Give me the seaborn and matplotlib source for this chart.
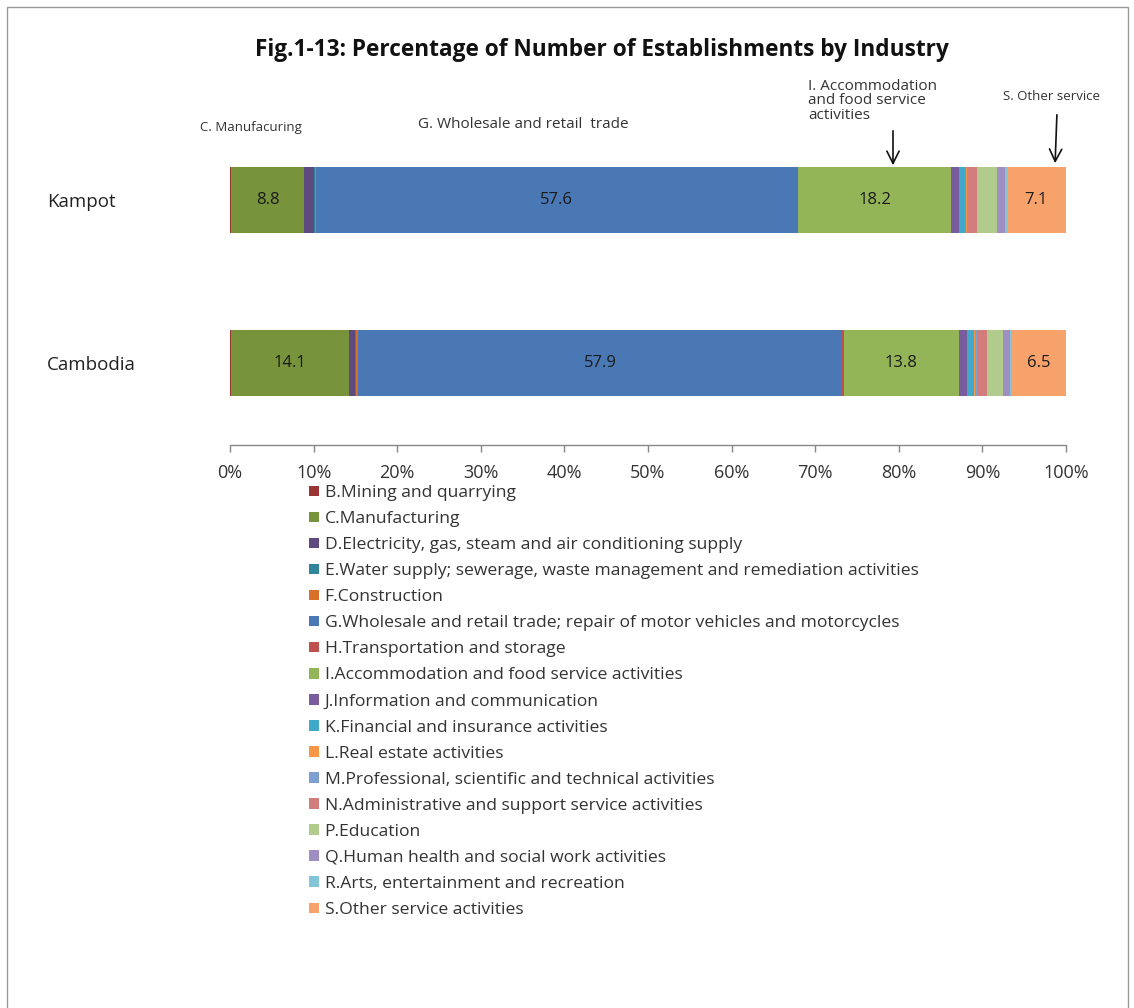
import matplotlib
matplotlib.use("Agg")
import matplotlib.pyplot as plt
import seaborn as sns
import pandas as pd
import numpy as np
from matplotlib.patches import Patch, Rectangle

regions = ["Kampot", "Cambodia"]
industries = [
    "B.Mining and quarrying",
    "C.Manufacturing",
    "D.Electricity, gas, steam and air conditioning supply",
    "E.Water supply; sewerage, waste management and remediation activities",
    "F.Construction",
    "G.Wholesale and retail trade; repair of motor vehicles and motorcycles",
    "H.Transportation and storage",
    "I.Accommodation and food service activities",
    "J.Information and communication",
    "K.Financial and insurance activities",
    "L.Real estate activities",
    "M.Professional, scientific and technical activities",
    "N.Administrative and support service activities",
    "P.Education",
    "Q.Human health and social work activities",
    "R.Arts, entertainment and recreation",
    "S.Other service activities",
]
kampot = [0.1, 8.8, 1.2, 0.1, 0.1, 57.6, 0.1, 18.2, 1.0, 0.8, 0.1, 0.1, 1.2, 2.3, 1.0, 0.2, 7.1]
cambodia = [0.1, 14.1, 0.8, 0.1, 0.2, 57.9, 0.2, 13.8, 0.9, 0.9, 0.1, 0.2, 1.2, 2.0, 0.8, 0.2, 6.5]
labelled = ["C.Manufacturing", "G.Wholesale and retail trade; repair of motor vehicles and motorcycles",
            "I.Accommodation and food service activities", "S.Other service activities"]
colors = ["#9B3533", "#77933C", "#5F4A80", "#31859C", "#D8702A", "#4A78B4", "#C0504D",
          "#94B557", "#7A5C9E", "#40A8C8", "#F79646", "#7F9FD3", "#D27C7C", "#B1CB8C",
          "#9F8EC2", "#82C4D8", "#F7A26B"]

sns.set_theme(style="white")
plt.rcParams["font.family"] = ["Open Sans", "DejaVu Sans"]

fig = plt.figure(figsize=(11.34, 10.08), dpi=100)
ax = fig.add_axes([230/1134, 1-445/1008, 836/1134, 295/1008])

df = pd.DataFrame({"region": np.repeat(regions, len(industries)),
                   "industry": industries * 2,
                   "value": kampot + cambodia})
df["cum"] = df.groupby("region")["value"].cumsum()
df["cum"] = df["cum"] / df.groupby("region")["value"].transform("sum") * 100

for i in range(len(industries) - 1, -1, -1):
    sub = df[df["industry"] == industries[i]]
    sns.barplot(data=sub, x="cum", y="region", order=regions, orient="h",
                color=colors[i], saturation=1, width=0.4, ax=ax, errorbar=None,
                linewidth=0)

# value labels
for r_i, r in enumerate(regions):
    rd = df[df["region"] == r].reset_index(drop=True)
    for _, row in rd.iterrows():
        if row["industry"] in labelled:
            ctr = row["cum"] - row["value"] / 2
            ax.text(ctr, r_i, f"{row['value']:.1f}", ha="center", va="center",
                    fontsize=12, color="#1a1a1a")

ax.set_xlim(0, 100)
ax.set_ylim(1.503, -0.307)
ax.set_xticks(np.arange(0, 101, 10))
ax.set_xticklabels([f"{t}%" for t in range(0, 101, 10)], fontsize=13, color="#333333")
ax.tick_params(axis="x", length=5, width=1, color="#888888", direction="out", pad=9, bottom=True)
ax.set_yticks([0, 1])
ax.set_yticklabels(regions, fontsize=13.5, color="#222222", ha="left")
ax.tick_params(axis="y", length=0, pad=132)
ax.set_xlabel("")
ax.set_ylabel("")
for s in ["top", "right", "left"]:
    ax.spines[s].set_visible(False)
ax.spines["bottom"].set_color("#888888")
ax.spines["bottom"].set_linewidth(1)

# title
fig.text(602/1134, 1-50/1008, "Fig.1-13: Percentage of Number of Establishments by Industry",
         ha="center", va="center", fontsize=16.3, fontweight="bold", color="#111111")

# annotations
fig.text(200/1134, 1-127/1008, "C. Manufacuring", ha="left", va="center", fontsize=9.5, color="#333333")
fig.text(418/1134, 1-124/1008, "G. Wholesale and retail  trade", ha="left", va="center", fontsize=11, color="#333333")
fig.text(808/1134, 1-101/1008, "I. Accommodation\nand food service\nactivities", ha="left", va="center",
         fontsize=11, color="#333333", linespacing=0.95)
fig.text(1003/1134, 1-97/1008, "S. Other service", ha="left", va="center", fontsize=9.5, color="#333333")
ax.annotate("", xy=(893/1134, 1-168/1008), xytext=(893/1134, 1-128/1008),
            xycoords="figure fraction", textcoords="figure fraction",
            arrowprops=dict(arrowstyle="->", color="#111111", lw=1.2, mutation_scale=22))
ax.annotate("", xy=(1055/1134, 1-166/1008), xytext=(1057/1134, 1-112/1008),
            xycoords="figure fraction", textcoords="figure fraction",
            arrowprops=dict(arrowstyle="->", color="#111111", lw=1.2, mutation_scale=22))

# legend
handles = [Patch(facecolor=c, edgecolor="none") for c in colors]
leg = fig.legend(handles, industries, loc="upper left", bbox_to_anchor=(309/1134, 1-485/1008),
                 frameon=False, fontsize=12.6, handlelength=0.55, handleheight=0.55,
                 handletextpad=0.35, labelspacing=0.575, borderaxespad=0, borderpad=0)
for t in leg.get_texts():
    t.set_color("#333333")

# outer frame
fig.add_artist(Rectangle((7/1134, -0.05), 1121/1134, 1.05 - 7/1008, transform=fig.transFigure,
                         fill=False, edgecolor="#999999", linewidth=1))

fig.savefig("out.png", dpi=100)
